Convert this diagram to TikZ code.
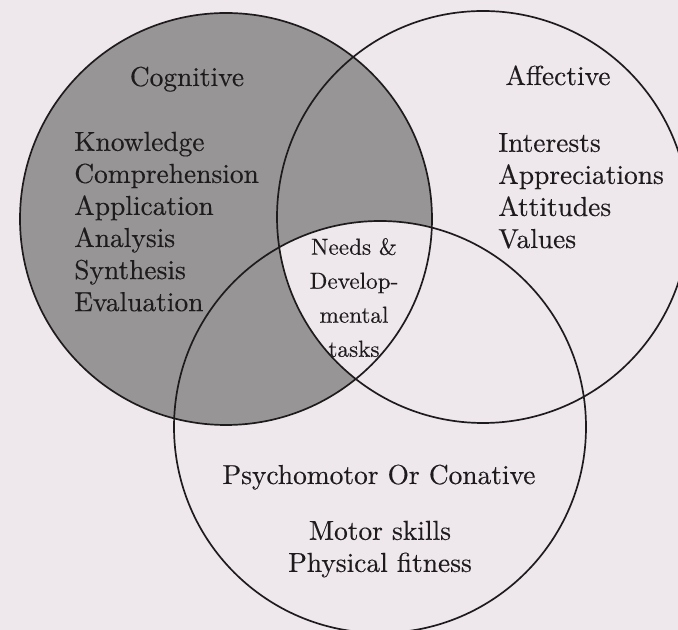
\documentclass[tikz,border=0pt]{standalone}
\usepackage{fontspec}
\usepackage{tikz}
\newfontfamily\scanfont{lmroman10-regular.otf}[FakeBold=0.3]
\definecolor{paper}{RGB}{238,231,236}
\definecolor{cogfill}{RGB}{152,149,151}
\definecolor{ink}{RGB}{30,27,29}

\begin{document}
\begin{tikzpicture}[x=0.025cm, y=0.025cm,
		ring/.style={draw=ink, line width=1.2pt},
		heading/.style={inner sep=0pt, text=ink, font=\scanfont\fontsize{19.5}{22.8}\selectfont},
		items/.style={heading, align=left},
		core/.style={inner sep=0pt, text=ink, align=center, font=\scanfont\fontsize{16.5}{24.2}\selectfont}]
		\useasboundingbox[fill=paper] (0,0) rectangle (678,630);
		\clip (0,0) rectangle (678,630);
		
		\coordinate (cog) at (226,411);
		\coordinate (aff) at (483,413);
		\coordinate (psy) at (380,203);
		
		% shaded cognitive domain, centre left blank
		\fill[cogfill] (cog) circle (206);
		\begin{scope}
			\clip (aff) circle (206);
			\clip (psy) circle (206);
			\fill[paper] (cog) circle (206);
		\end{scope}
		
		\draw[ring] (cog) circle (206);
		\draw[ring] (aff) circle (206);
		\draw[ring] (psy) circle (206);
		
		\node[heading, anchor=base] (cogname) at (187,544) {Cognitive};
		\node[items, anchor=north west] (coglist) at (74,498.5) {Knowledge\\Comprehension\\Application\\Analysis\\Synthesis\\Evaluation};
		
		\node[heading, anchor=base] (affname) at (558,545) {Affective};
		\node[items, anchor=north west] (afflist) at (498,497.2) {Interests\\Appreciations\\Attitudes\\Values};
		
		\node[core, anchor=north] (needs) at (354,392.2) {Needs \&\\Develop-\\mental\\tasks};
		
		\node[heading, anchor=base] (psyname) at (379,146) {Psychomotor Or Conative};
		\node[items, align=center, anchor=north] (psylist) at (380,109.5) {Motor skills\\Physical fitness};
\end{tikzpicture}
\end{document}
